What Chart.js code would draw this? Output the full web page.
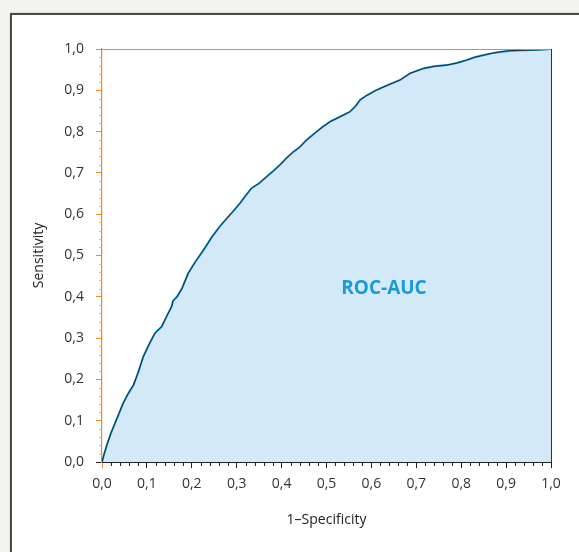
<!DOCTYPE html>
<html>
<head>
<meta charset="utf-8">
<script src="https://cdn.jsdelivr.net/npm/chart.js@4"></script>
<style>
  html, body { margin: 0; padding: 0; }
  body { width: 579px; height: 552px; background: #f3f3ef; position: relative; overflow: hidden; }
  #frame { position: absolute; left: 10px; top: 13px; width: 640px; height: 640px;
           background: #fff; border: 2px solid #4a4a4a; box-shadow: 0 0 1px #888; }
  #rocChart { position: absolute; left: 0; top: 0; }
</style>
</head>
<body>
<div id="frame"></div>
<canvas id="rocChart" width="579" height="552"></canvas>
<script>
// values
const fpr = [0, 0.005, 0.012, 0.020, 0.029, 0.038, 0.047, 0.058, 0.070, 0.080, 0.092, 0.105, 0.118, 0.133, 0.145, 0.155,
  0.158, 0.167, 0.178, 0.192, 0.208, 0.226, 0.245, 0.262, 0.278, 0.292, 0.307, 0.320, 0.333, 0.350, 0.367, 0.382,
  0.396, 0.410, 0.425, 0.440, 0.456, 0.475, 0.492, 0.508, 0.530, 0.552, 0.565, 0.575, 0.590, 0.610, 0.635, 0.664,
  0.686, 0.716, 0.740, 0.768, 0.790, 0.812, 0.830, 0.849, 0.870, 0.886, 0.910, 0.940, 0.976, 0.990, 1.0];
const tpr = [0, 0.020, 0.045, 0.070, 0.094, 0.118, 0.142, 0.165, 0.186, 0.215, 0.255, 0.285, 0.312, 0.328, 0.355, 0.376,
  0.390, 0.400, 0.420, 0.457, 0.485, 0.513, 0.545, 0.570, 0.590, 0.607, 0.626, 0.645, 0.663, 0.675, 0.691, 0.705,
  0.719, 0.735, 0.750, 0.762, 0.780, 0.797, 0.812, 0.824, 0.836, 0.848, 0.862, 0.877, 0.888, 0.900, 0.912, 0.925,
  0.941, 0.953, 0.958, 0.961, 0.966, 0.973, 0.980, 0.985, 0.990, 0.993, 0.996, 0.997, 0.998, 0.999, 1.0];
const xTicks = [0, 0.1, 0.2, 0.3, 0.4, 0.5, 0.6, 0.7, 0.8, 0.9, 1.0];
const yTicks = [0, 0.1, 0.2, 0.3, 0.4, 0.5, 0.6, 0.7, 0.8, 0.9, 1.0];
const areaLabel = 'ROC-AUC';
const areaLabelPos = [0.628, 0.421];

const points = fpr.map((x, i) => ({ x: x, y: tpr[i] }));
const fmt = v => v.toFixed(1).replace('.', ',');
const FONT = '"Open Sans", "Noto Sans", sans-serif';
const ORANGE = '#ef8a1a';

// minor ticks, top/right borders and the area label
const extras = {
  id: 'extras',
  afterDatasetsDraw(chart) {
    const { ctx, chartArea: a, scales: { x, y } } = chart;
    ctx.save();
    ctx.lineWidth = 1;
    // top orange line
    ctx.strokeStyle = ORANGE;
    ctx.beginPath(); ctx.moveTo(a.left, a.top + 0.5); ctx.lineTo(a.right, a.top + 0.5); ctx.stroke();
    // right border
    ctx.strokeStyle = '#333';
    ctx.beginPath(); ctx.moveTo(a.right + 0.5, a.top); ctx.lineTo(a.right + 0.5, a.bottom); ctx.stroke();
    // minor ticks
    for (let i = 1; i < 50; i++) {
      if (i % 5 === 0) continue;
      const v = i / 50;
      const px = Math.round(x.getPixelForValue(v)) + 0.5;
      ctx.strokeStyle = '#222';
      ctx.beginPath(); ctx.moveTo(px, a.bottom); ctx.lineTo(px, a.bottom + 4); ctx.stroke();
      const py = Math.round(y.getPixelForValue(v)) + 0.5;
      ctx.strokeStyle = '#f4b06a';
      ctx.beginPath(); ctx.moveTo(a.left - 3, py); ctx.lineTo(a.left, py); ctx.stroke();
    }
    ctx.fillStyle = '#1a9ad6';
    ctx.font = 'bold 19px ' + FONT;
    ctx.textAlign = 'center';
    ctx.textBaseline = 'middle';
    ctx.fillText(areaLabel, x.getPixelForValue(areaLabelPos[0]), y.getPixelForValue(areaLabelPos[1]));
    ctx.restore();
  }
};

const chart = new Chart(document.getElementById('rocChart'), {
  type: 'line',
  data: {
    datasets: [{
      data: points,
      borderColor: '#1d2b36',
      borderWidth: 1,
      pointRadius: 0,
      tension: 0,
      fill: false,
      order: 0
    }, {
      data: points,
      borderColor: '#1a9ad6',
      borderWidth: 2,
      backgroundColor: '#d4e9f7',
      pointRadius: 0,
      tension: 0,
      fill: 'origin',
      order: 1
    }]
  },
  options: {
    responsive: false,
    animation: false,
    events: [],
    layout: { padding: { top: 49, right: 28, left: 0, bottom: 0 } },
    plugins: { legend: { display: false }, tooltip: { enabled: false } },
    scales: {
      x: {
        type: 'linear',
        min: 0, max: 1,
        afterFit: s => { s.height = 90; },
        afterBuildTicks: s => { s.ticks = xTicks.map(v => ({ value: v })); },
        ticks: { callback: v => fmt(v), color: '#333', font: { family: FONT, size: 14 }, padding: 8, maxRotation: 0 },
        grid: { drawOnChartArea: false, tickLength: 6, tickColor: c => c.tick && c.tick.value === 0 ? ORANGE : '#222' },
        border: { color: '#222', width: 1 },
        title: { display: true, text: '1–Specificity', color: '#222', font: { family: FONT, size: 14 }, padding: { bottom: 24 } }
      },
      y: {
        type: 'linear',
        min: 0, max: 1,
        afterFit: s => { s.width = 102; },
        afterBuildTicks: s => { s.ticks = yTicks.map(v => ({ value: v })); },
        ticks: { callback: v => fmt(v), color: '#333', font: { family: FONT, size: 14 }, padding: 12 },
        grid: { drawOnChartArea: false, tickLength: 6, tickColor: c => c.tick && c.tick.value === 0 ? '#222' : ORANGE },
        border: { color: ORANGE, width: 1.2 },
        title: { display: true, text: 'Sensitivity', color: '#222', font: { family: FONT, size: 14 }, padding: { top: 31 } }
      }
    }
  },
  plugins: [extras]
});
</script>
</body>
</html>
